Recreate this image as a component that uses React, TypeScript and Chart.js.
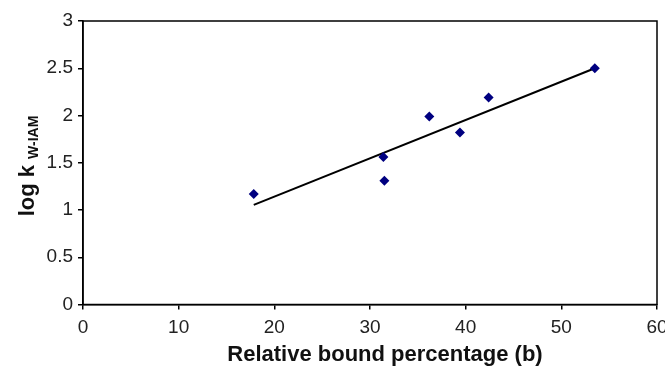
import React, { useEffect, useRef } from "react";
import { Chart, registerables } from "chart.js";

Chart.register(...registerables);

const xValues = [17.85, 31.4, 31.5, 36.2, 39.4, 42.4, 53.5];
const yValues = [1.17, 1.56, 1.31, 1.99, 1.82, 2.19, 2.5];
const xTickLabels = ["0", "10", "20", "30", "40", "50", "60"];
const yTickLabels = ["0", "0.5", "1", "1.5", "2", "2.5", "3"];
const xTitle = "Relative bound percentage (b)";
const yTitleMain = "log k";
const yTitleSub = "W-IAM";

function regression(xs: number[], ys: number[]) {
  const n = xs.length;
  const mx = xs.reduce((a, b) => a + b, 0) / n;
  const my = ys.reduce((a, b) => a + b, 0) / n;
  let sxy = 0;
  let sxx = 0;
  for (let i = 0; i < n; i++) {
    sxy += (xs[i] - mx) * (ys[i] - my);
    sxx += (xs[i] - mx) * (xs[i] - mx);
  }
  const slope = sxy / sxx;
  return { slope, intercept: my - slope * mx };
}

const FONT = "'Liberation Sans', Arial, sans-serif";

export default function App() {
  const ref = useRef<HTMLCanvasElement | null>(null);

  useEffect(() => {
    if (!ref.current) return;
    const { slope, intercept } = regression(xValues, yValues);
    const xmin = Math.min(...xValues);
    const xmax = Math.max(...xValues);
    const trend = [
      { x: xmin, y: intercept + slope * xmin },
      { x: xmax, y: intercept + slope * xmax },
    ];

    const framePlugin = {
      id: "frameAndTitles",
      beforeDatasetsDraw(chart: any) {
        const { ctx, chartArea: a } = chart;
        ctx.save();
        ctx.strokeStyle = "#000";
        ctx.lineWidth = 1.5;
        ctx.strokeRect(a.left, a.top, a.right - a.left, a.bottom - a.top);
        ctx.restore();
      },
      afterDraw(chart: any) {
        const { ctx } = chart;
        ctx.save();
        ctx.fillStyle = "#111";
        ctx.font = `bold 22px ${FONT}`;
        ctx.textAlign = "center";
        ctx.textBaseline = "middle";
        ctx.fillText(xTitle, 385, 355);
        ctx.restore();

        ctx.save();
        ctx.translate(27, 166);
        ctx.rotate(-Math.PI / 2);
        ctx.fillStyle = "#111";
        ctx.textBaseline = "alphabetic";
        ctx.textAlign = "left";
        ctx.font = `bold 22px ${FONT}`;
        const w1 = ctx.measureText(yTitleMain + " ").width;
        ctx.font = `bold 14px ${FONT}`;
        const w2 = ctx.measureText(yTitleSub).width;
        const start = -(w1 + w2) / 2;
        ctx.font = `bold 22px ${FONT}`;
        ctx.fillText(yTitleMain, start, 7);
        ctx.font = `bold 14px ${FONT}`;
        ctx.fillText(yTitleSub, start + w1, 11);
        ctx.restore();
      },
    };

    const chart = new Chart(ref.current, {
      type: "scatter",
      data: {
        datasets: [
          {
            label: "data",
            data: xValues.map((x, i) => ({ x, y: yValues[i] })),
            pointStyle: "rectRot",
            pointRadius: 5,
            pointBackgroundColor: "#000080",
            pointBorderColor: "#000080",
            pointBorderWidth: 0,
            showLine: false,
          },
          {
            label: "trend",
            data: trend,
            showLine: true,
            borderColor: "#000",
            borderWidth: 2,
            pointRadius: 0,
            fill: false,
          },
        ],
      },
      options: {
        responsive: false,
        animation: false,
        layout: { padding: { left: 0, top: 21, right: 8, bottom: 0 } },
        plugins: {
          legend: { display: false },
          tooltip: { enabled: false },
        },
        scales: {
          x: {
            type: "linear",
            min: 0,
            max: 60,
            afterFit: (s: any) => {
              s.height = 367 - 304.5;
              s.paddingRight = 0;
              s.paddingLeft = 0;
            },
            ticks: {
              stepSize: 10,
              font: { family: FONT, size: 19 },
              color: "#222",
              padding: 7,
              maxRotation: 0,
              callback: (v: any) => xTickLabels[Math.round(Number(v) / 10)] ?? "",
            },
            grid: {
              drawOnChartArea: false,
              drawTicks: true,
              tickLength: 5,
              color: "#000",
              lineWidth: 1.5,
            },
            border: { display: true, color: "#000", width: 1.5 },
          },
          y: {
            type: "linear",
            min: 0,
            max: 3,
            afterFit: (s: any) => {
              s.width = 83;
              s.paddingTop = 0;
              s.paddingBottom = 0;
            },
            ticks: {
              stepSize: 0.5,
              font: { family: FONT, size: 19 },
              color: "#222",
              padding: 5,
              callback: (v: any) => yTickLabels[Math.round(Number(v) * 2)] ?? "",
            },
            grid: {
              drawOnChartArea: false,
              drawTicks: true,
              tickLength: 5,
              color: "#000",
              lineWidth: 1.5,
            },
            border: { display: true, color: "#000", width: 1.5 },
          },
        },
      },
      plugins: [framePlugin],
    });
    return () => chart.destroy();
  }, []);

  return (
    <div style={{ position: "absolute", left: 0, top: 0, width: 665, height: 367, background: "#fff" }}>
      <canvas ref={ref} width={665} height={367} style={{ width: 665, height: 367 }} />
    </div>
  );
}
